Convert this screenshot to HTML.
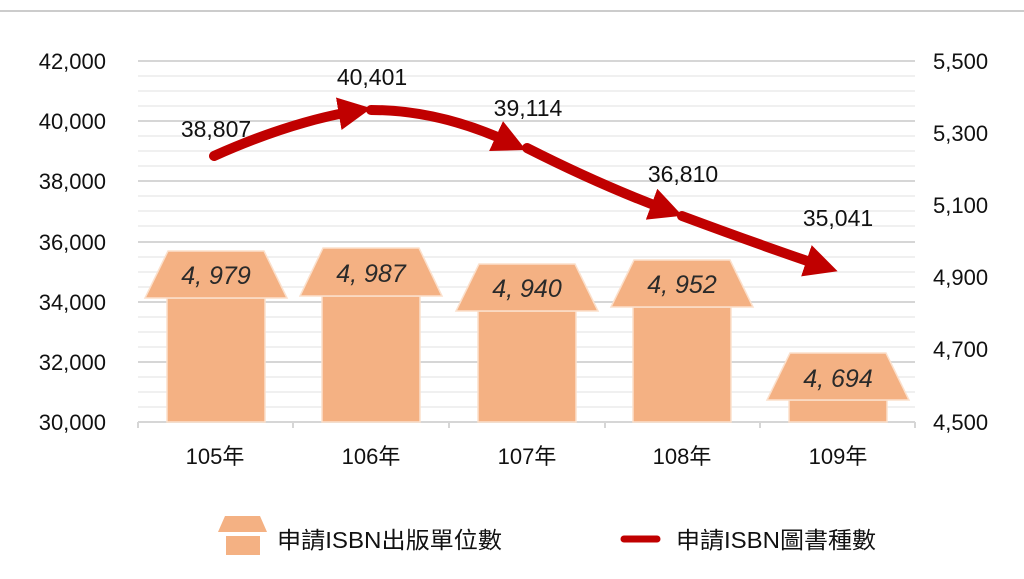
<!DOCTYPE html>
<html><head><meta charset="utf-8"><style>
html,body{margin:0;padding:0;background:#fff;width:1024px;height:579px;overflow:hidden}
text{font-family:"Liberation Sans","Noto Sans CJK TC",sans-serif;fill:#111}
</style></head><body>
<svg width="1024" height="579" viewBox="0 0 1024 579">
<defs>
<marker id="ar" viewBox="0 0 10 10" refX="5" refY="5" markerWidth="3.3" markerHeight="3.3" orient="auto" markerUnits="strokeWidth">
<path d="M0,0 L10,5 L0,10 z" fill="#c00000"/></marker>
</defs>
<line x1="0" y1="11" x2="1024" y2="11" stroke="#ccc" stroke-width="2"/>
<g stroke="#ebebeb" stroke-width="1.5">
<line x1="138" x2="915" y1="76" y2="76"/><line x1="138" x2="915" y1="91" y2="91"/><line x1="138" x2="915" y1="106" y2="106"/>
<line x1="138" x2="915" y1="136" y2="136"/><line x1="138" x2="915" y1="151" y2="151"/><line x1="138" x2="915" y1="166" y2="166"/>
<line x1="138" x2="915" y1="196" y2="196"/><line x1="138" x2="915" y1="211" y2="211"/><line x1="138" x2="915" y1="226" y2="226"/>
<line x1="138" x2="915" y1="257" y2="257"/><line x1="138" x2="915" y1="272" y2="272"/><line x1="138" x2="915" y1="287" y2="287"/>
<line x1="138" x2="915" y1="317" y2="317"/><line x1="138" x2="915" y1="332" y2="332"/><line x1="138" x2="915" y1="347" y2="347"/>
<line x1="138" x2="915" y1="377" y2="377"/><line x1="138" x2="915" y1="392" y2="392"/><line x1="138" x2="915" y1="407" y2="407"/>
</g>
<g stroke="#d6d6d6" stroke-width="2">
<line x1="138" x2="915" y1="61" y2="61"/><line x1="138" x2="915" y1="121" y2="121"/><line x1="138" x2="915" y1="181" y2="181"/>
<line x1="138" x2="915" y1="242" y2="242"/><line x1="138" x2="915" y1="302" y2="302"/><line x1="138" x2="915" y1="362" y2="362"/>
<line x1="138" x2="915" y1="422" y2="422"/>
<line x1="138" x2="138" y1="422" y2="428"/><line x1="293" x2="293" y1="422" y2="428"/><line x1="449" x2="449" y1="422" y2="428"/>
<line x1="605" x2="605" y1="422" y2="428"/><line x1="760" x2="760" y1="422" y2="428"/><line x1="915" x2="915" y1="422" y2="428"/>
</g>
<g font-size="22" text-anchor="end">
<text x="106" y="69">42,000</text><text x="106" y="129">40,000</text><text x="106" y="189">38,000</text>
<text x="106" y="250">36,000</text><text x="106" y="310">34,000</text><text x="106" y="370">32,000</text><text x="106" y="430">30,000</text>
</g>
<g font-size="22" text-anchor="start">
<text x="933" y="69">5,500</text><text x="933" y="141">5,300</text><text x="933" y="213">5,100</text>
<text x="933" y="285">4,900</text><text x="933" y="357">4,700</text><text x="933" y="430">4,500</text>
</g>
<g font-size="22" text-anchor="middle">
<text x="215" y="464">105年</text><text x="371" y="464">106年</text><text x="527" y="464">107年</text><text x="682" y="464">108年</text><text x="838" y="464">109年</text>
</g>
<g fill="#f4b183" stroke="#fbe0cc" stroke-width="1.5">
<rect x="167" y="298" width="98" height="124"/><path d="M168,251 L264,251 L287,298 L145,298 z"/>
<rect x="322" y="296" width="98" height="126"/><path d="M323,248 L419,248 L442,296 L300,296 z"/>
<rect x="478" y="311" width="98" height="111"/><path d="M479,264 L575,264 L598,311 L456,311 z"/>
<rect x="633" y="307" width="98" height="115"/><path d="M634,260 L730,260 L753,307 L611,307 z"/>
<rect x="789" y="400" width="98" height="22"/><path d="M790,353 L886,353 L909,400 L767,400 z"/>
</g>
<g font-size="25" text-anchor="middle" font-style="italic">
<text x="216" y="284" style="fill:#2a2a2a">4, 979</text><text x="371" y="282" style="fill:#2a2a2a">4, 987</text>
<text x="527" y="297" style="fill:#2a2a2a">4, 940</text><text x="682" y="293" style="fill:#2a2a2a">4, 952</text><text x="838" y="387" style="fill:#2a2a2a">4, 694</text>
</g>
<g fill="none" stroke="#c00000" stroke-width="10" stroke-linecap="round">
<path d="M214,156 Q290,122 355,111" marker-end="url(#ar)"/>
<path d="M371,110 Q440,110 511,143" marker-end="url(#ar)"/>
<path d="M527,148 Q600,185 667,210" marker-end="url(#ar)"/>
<path d="M682,216 Q760,245 822,266" marker-end="url(#ar)"/>
</g>
<g font-size="23" text-anchor="middle">
<text x="216" y="137">38,807</text><text x="372" y="85">40,401</text><text x="528" y="116">39,114</text>
<text x="683" y="182">36,810</text><text x="838" y="226">35,041</text>
</g>
<path d="M225,516 L260,516 L267,532 L218,532 z" fill="#f4b183"/>
<rect x="226" y="536" width="34" height="19" fill="#f4b183"/>
<text x="277" y="548" font-size="23" textLength="225" lengthAdjust="spacingAndGlyphs">申請ISBN出版單位數</text>
<line x1="624" y1="539" x2="657" y2="539" stroke="#c00000" stroke-width="7" stroke-linecap="round"/>
<text x="676" y="548" font-size="23" textLength="200" lengthAdjust="spacingAndGlyphs">申請ISBN圖書種數</text>
</svg>
</body></html>
